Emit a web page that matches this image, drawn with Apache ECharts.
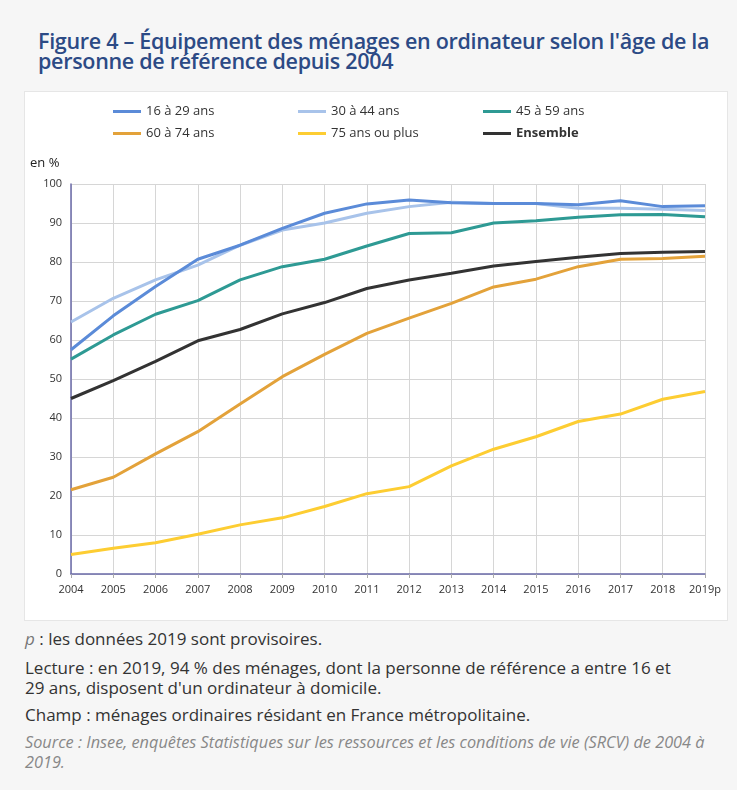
<!DOCTYPE html>
<html><head><meta charset="utf-8">
<script src="https://cdn.jsdelivr.net/npm/echarts@6/dist/echarts.min.js"></script>
<style>
html,body{margin:0;padding:0;background:#f6f6f6;width:737px;height:790px;overflow:hidden;font-family:"Open Sans",sans-serif;}
#title{position:absolute;left:38px;top:31px;width:699px;font-size:21.5px;line-height:20px;font-weight:600;color:#2c4a85;letter-spacing:-0.3px;white-space:nowrap;}
#chart{position:absolute;left:25px;top:92px;width:702px;height:528px;background:#fff;box-shadow:0 0 0 1px #e6e6e6;}
.note{position:absolute;left:25px;font-size:17px;color:#333;line-height:20px;width:712px;white-space:nowrap;}
</style></head>
<body>
<div id="title">Figure 4 – Équipement des ménages en ordinateur selon l'âge de la<br>personne de référence depuis 2004</div>
<div id="chart"></div>
<div class="note" style="top:629px"><i style="color:#777">p</i> : les données 2019 sont provisoires.</div>
<div class="note" style="top:658px">Lecture : en 2019, 94 % des ménages, dont la personne de référence a entre 16 et<br>29 ans, disposent d'un ordinateur à domicile.</div>
<div class="note" style="top:705px">Champ : ménages ordinaires résidant en France métropolitaine.</div>
<div class="note" style="top:732px;color:#888;font-style:italic;font-size:16.3px">Source : Insee, enquêtes Statistiques sur les ressources et les conditions de vie (SRCV) de 2004 à<br>2019.</div>
<script>
const years = ['2004','2005','2006','2007','2008','2009','2010','2011','2012','2013','2014','2015','2016','2017','2018','2019p'];
const yTicks = [0,10,20,30,40,50,60,70,80,90,100];
const age16_29 = [57.5,66.2,73.7,80.7,84.3,88.6,92.5,94.9,95.9,95.2,95.0,95.0,94.7,95.7,94.2,94.4];
const age30_44 = [64.6,70.7,75.4,79.2,84.3,88.2,90.0,92.5,94.2,95.3,95.0,95.0,93.8,93.8,93.5,93.2];
const age45_59 = [55.1,61.3,66.6,70.1,75.4,78.8,80.7,84.1,87.3,87.5,90.0,90.6,91.5,92.1,92.2,91.6];
const age60_74 = [21.6,24.8,30.8,36.5,43.6,50.6,56.3,61.7,65.6,69.4,73.6,75.6,78.8,80.7,80.9,81.5];
const age75plus = [5.0,6.6,8.0,10.2,12.6,14.4,17.3,20.6,22.4,27.7,32.0,35.2,39.1,41.0,44.8,46.8];
const ensemble = [45.0,49.6,54.5,59.8,62.7,66.7,69.6,73.2,75.4,77.1,79.0,80.1,81.2,82.2,82.5,82.7];

const names = ['16 à 29 ans','30 à 44 ans','45 à 59 ans','60 à 74 ans','75 ans ou plus','Ensemble'];
const colors = ['#5b8bd8','#a8c3ea','#2e9a94','#e3a23a','#fdcd32','#333333'];
const datas = [age16_29,age30_44,age45_59,age60_74,age75plus,ensemble];
const legendPos = [[83,8],[268,8],[453,8],[83,30],[268,30],[453,30]];

const chart = echarts.init(document.getElementById('chart'));
chart.setOption({
  animation:false,
  textStyle:{fontFamily:'Open Sans'},
  legend: names.map((n,i)=>({
    data:[n], left:legendPos[i][0], top:legendPos[i][1], itemWidth:28, itemHeight:3, itemGap:10,
    icon:'rect', selectedMode:false,
    textStyle:{fontSize:13, color:'#333', fontWeight: n==='Ensemble'?'bold':'normal', fontFamily:'Open Sans'}
  })),
  graphic:[{type:'text', left:5, top:65, style:{text:'en %', fontSize:13, fill:'#222', fontFamily:'Open Sans'}}],
  grid:{left:46, right:22, top:92, bottom:46},
  xAxis:{type:'category', data:years, boundaryGap:false,
    axisLine:{lineStyle:{color:'#6a6aa8', width:1.5}},
    axisTick:{show:true, length:4, lineStyle:{color:'#aaa'}},
    axisLabel:{fontSize:11, color:'#333', margin:10, interval:0},
    splitLine:{show:true, lineStyle:{color:'#d6d6d6'}}},
  yAxis:{type:'value', min:0, max:100, interval:10,
    axisLine:{show:true, lineStyle:{color:'#6a6aa8', width:1.5}},
    axisTick:{show:false},
    axisLabel:{fontSize:11, color:'#333', margin:9, formatter:v=>yTicks.includes(v)?String(v):''},
    splitLine:{show:true, lineStyle:{color:'#d6d6d6'}}},
  series: names.map((n,i)=>({
    name:n, type:'line', data:datas[i], symbol:'none', showSymbol:false,
    lineStyle:{color:colors[i], width:3}, itemStyle:{color:colors[i]}, z: i===1?1:2
  }))
});
</script>
</body></html>
